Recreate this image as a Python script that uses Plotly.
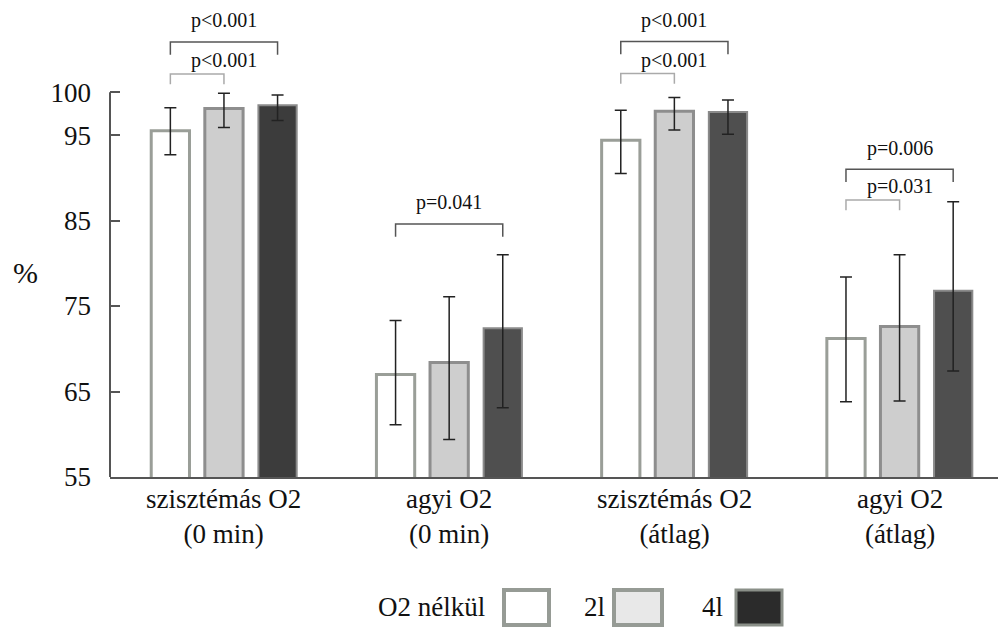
import plotly.graph_objects as go

# ---------------- data ----------------
categories = ["szisztémás O2<br>(0 min)", "agyi O2<br>(0 min)",
              "szisztémás O2<br>(átlag)", "agyi O2<br>(átlag)"]
series_names = ["O2 nélkül", "2l", "4l"]

mean_none = [95.5, 67.0, 94.4, 71.2]
mean_2l = [98.1, 68.4, 97.8, 72.6]
mean_4l = [98.5, 72.4, 97.7, 76.8]

err_up_none = [2.7, 6.3, 3.5, 7.2]
err_dn_none = [2.8, 5.9, 3.9, 7.4]
err_up_2l = [1.8, 7.7, 1.6, 8.4]
err_dn_2l = [2.2, 9.0, 2.2, 8.7]
err_up_4l = [1.2, 8.6, 1.4, 10.4]
err_dn_4l = [1.8, 9.3, 2.6, 9.4]

y_ticks = [55, 65, 75, 85, 95, 100]

# significance tests: (group index, bar a, bar b, label, bracket level in %)
sig_outer = [(0, 0, 2, "p<0.001", 105.9), (1, 0, 2, "p=0.041", 84.6),
             (2, 0, 2, "p<0.001", 105.95), (3, 0, 2, "p=0.006", 91.0)]
sig_inner = [(0, 0, 1, "p<0.001", 102.15), (2, 0, 1, "p<0.001", 102.2),
             (3, 0, 1, "p=0.031", 87.4)]

# ---------------- styles ----------------
FONT = "Liberation Serif"
TXT = "#111111"
fills = ["#ffffff", "#cecece", ["#3c3c3c", "#4f4f4f", "#4f4f4f", "#4f4f4f"]]
lines = ["#9a9e98", "#8e8e8e", "#8a8a8a"]
line_w = [3, 3, 2]
legend_fills = ["#ffffff", "#e8e8e8", "#2b2b2b"]
legend_lines = ["#969b95", "#969b95", "#8a8f88"]

W, H = 998, 628
ML, MR, MT, MB = 110, 0, 0, 151
BARGAP, GROUPGAP = 0.286, 0.286

means = [mean_none, mean_2l, mean_4l]
ups = [err_up_none, err_up_2l, err_up_4l]
dns = [err_dn_none, err_dn_2l, err_dn_4l]

fig = go.Figure()
for k in range(3):
    fig.add_trace(go.Bar(
        x=categories, y=means[k], name=series_names[k],
        marker=dict(color=fills[k], line=dict(color=lines[k], width=line_w[k])),
        error_y=dict(type="data", symmetric=False, array=ups[k], arrayminus=dns[k],
                     color="#222222", thickness=1.5, width=6),
        showlegend=False,
    ))

slot = (1 - BARGAP) / 3.0


def bar_x(g, k):
    return g + (k - 1) * slot


shapes = []
annotations = []

# y-axis line only spanning tick range
shapes.append(dict(type="line", xref="paper", yref="y", x0=0, x1=0,
                   y0=min(y_ticks), y1=max(y_ticks),
                   line=dict(color="#555555", width=2)))


def bracket(g, a, b, label, level, drop, color, shift):
    xa, xb = bar_x(g, a), bar_x(g, b)
    shapes.append(dict(type="path", xref="x", yref="y",
                       path=f"M {xa},{level - drop} L {xa},{level} L {xb},{level} L {xb},{level - drop}",
                       line=dict(color=color, width=1.5)))
    annotations.append(dict(x=g, y=level, xref="x", yref="y", text=label,
                            showarrow=False, yanchor="middle", yshift=shift,
                            font=dict(family=FONT, size=20, color=TXT)))


for g, a, b, lab, lev in sig_outer:
    bracket(g, a, b, lab, lev, 1.5, "#555555", 21)
for g, a, b, lab, lev in sig_inner:
    bracket(g, a, b, lab, lev, 1.2, "#aaaaaa", 13.5)

plot_w = W - ML - MR
plot_h = H - MT - MB


def px(xp):
    return (xp - ML) / plot_w


def py(yp):
    return (H - MB - yp) / plot_h


# category labels (as annotations for exact vertical placement)
for g, cat in enumerate(categories):
    annotations.append(dict(x=cat, y=0, xref="x", yref="paper", text=cat,
                            showarrow=False, xanchor="center", yanchor="top", yshift=-5,
                            font=dict(family=FONT, size=27, color=TXT)))

# "%" label
annotations.append(dict(x=px(25), y=py(272), xref="paper", yref="paper", text="%",
                        showarrow=False, xanchor="center", yanchor="middle",
                        font=dict(family=FONT, size=30, color=TXT)))

# manual legend (text before swatch)
leg_text_right = [487, 607, 725]
leg_box_x = [(504, 549), (614, 662), (736, 782)]
leg_box_y = (590, 625)
for k in range(3):
    annotations.append(dict(x=px(leg_text_right[k]), y=py(607), xref="paper", yref="paper",
                            text=series_names[k], showarrow=False,
                            xanchor="right", yanchor="middle",
                            font=dict(family=FONT, size=27, color=TXT)))
    shapes.append(dict(type="rect", xref="paper", yref="paper",
                       x0=px(leg_box_x[k][0]), x1=px(leg_box_x[k][1]),
                       y0=py(leg_box_y[1]), y1=py(leg_box_y[0]),
                       fillcolor=legend_fills[k],
                       line=dict(color=legend_lines[k], width=4 if k < 2 else 3)))

fig.update_layout(
    width=W, height=H, autosize=False,
    margin=dict(l=ML, r=MR, t=MT, b=MB),
    paper_bgcolor="white", plot_bgcolor="white",
    font=dict(family=FONT, color=TXT),
    barmode="group", bargap=BARGAP, bargroupgap=GROUPGAP,
    shapes=shapes, annotations=annotations,
    showlegend=False,
    xaxis=dict(range=[-0.506, 3.437], showline=True, linecolor="#555555", linewidth=2,
               ticks="", showgrid=False, zeroline=False, showticklabels=False),
    yaxis=dict(range=[55, 55 + (H - MB - 1) / 8.53], tickvals=y_ticks,
               ticks="inside", ticklen=10, tickwidth=2, tickcolor="#555555",
               showline=False, showgrid=False, zeroline=False,
               tickfont=dict(family=FONT, size=27, color=TXT), ticklabelstandoff=18),
)

fig.write_html("out.html")
